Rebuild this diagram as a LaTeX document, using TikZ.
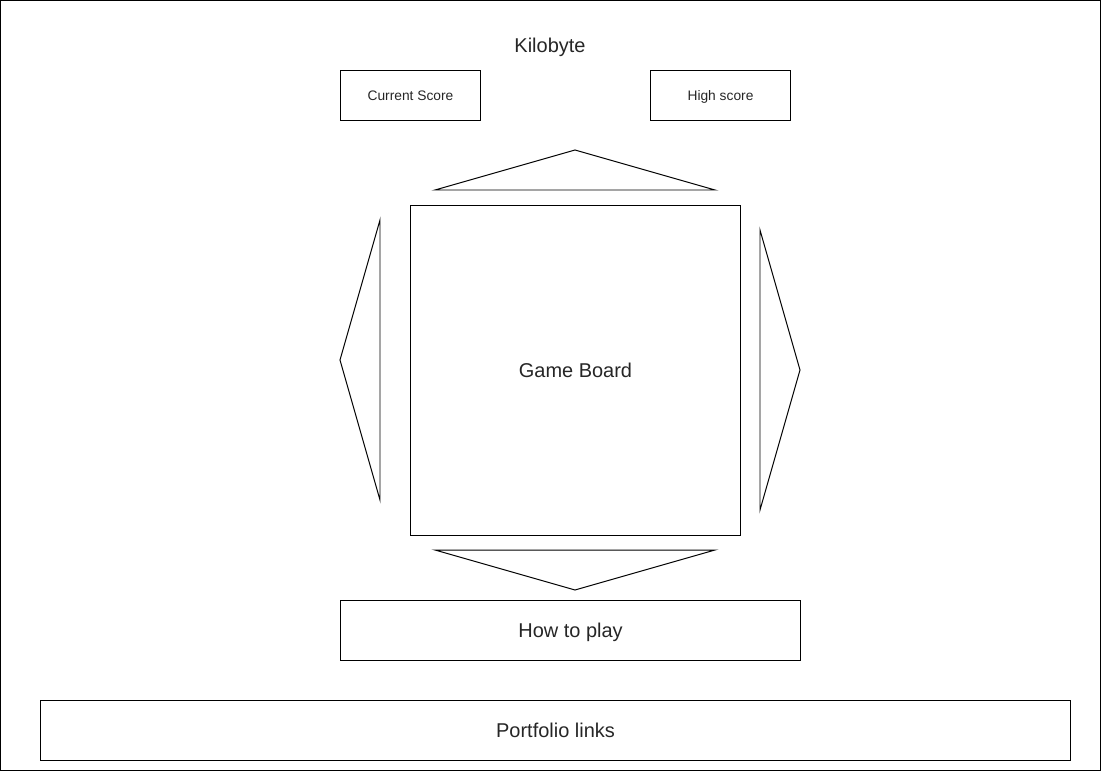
\documentclass[tikz,border=0pt]{standalone}
\usepackage{fontspec}
\setmainfont{Liberation Sans}
\usetikzlibrary{positioning}
\tikzset{
    % Lines
    thin line/.style={line width=.7pt},
    %
    % Boxes and labels
    frame box/.style={draw, thin line, inner sep=0pt, text depth=0pt},
    big label/.style={font=\fontsize{14.2}{17}\selectfont, text=black!85},
    small label/.style={font=\fontsize{9.8}{12}\selectfont, text=black!85},
    %
    % Direction triangles
    pointer/.style={draw, thin line, line join=miter}
}

\begin{document}
\begin{tikzpicture}[x=0.025cm, y=-0.025cm]
        \useasboundingbox (0,0) rectangle (1101,771);
        \draw[thin line] (.5,.5) rectangle (1100,770);
        \node[big label] (title) at (550,47.5) {Kilobyte};
        \node[frame box, small label, minimum width=3.5cm, minimum height=1.25cm] (current) at (410.5,95.5) {Current Score};
        \node[frame box, small label, minimum width=3.5cm, minimum height=1.25cm] (high) at (720.5,95.5) {High score};
        \node[frame box, big label, minimum width=8.25cm, minimum height=8.25cm] (board) at (575.5,370.5) {Game Board};
        % arrows round the board
        \draw[pointer] (435,190) -- (575,150) -- (715,190) -- cycle;
        \draw[pointer] (435,550) -- (575,590) -- (715,550) -- cycle;
        \draw[pointer] (380,220) -- (340,360) -- (380,500) -- cycle;
        \draw[pointer] (760,230) -- (800,370) -- (760,510) -- cycle;
        \node[frame box, big label, minimum width=11.5cm, minimum height=1.5cm] (howto) at (570.5,630.5) {How to play};
        \node[frame box, big label, minimum width=25.75cm, minimum height=1.5cm] (links) at (555.5,730.5) {Portfolio links};
    \end{tikzpicture}
\end{document}
